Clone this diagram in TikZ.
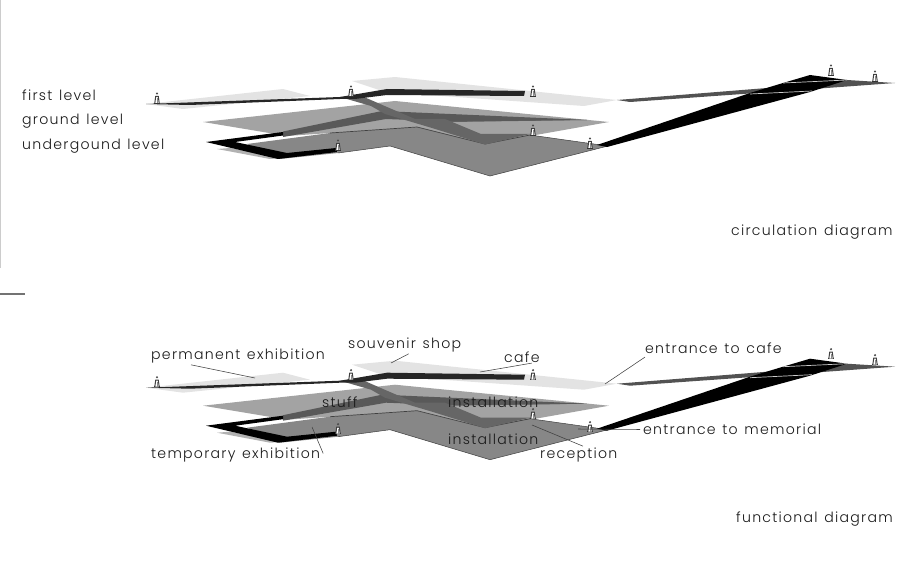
\documentclass[tikz,border=0pt]{standalone}
\usepackage{fontspec}
\setmainfont[LetterSpace=9,WordSpace=1.3]{Poppins Light}
\usetikzlibrary{positioning}
\definecolor{inkgrey}{gray}{0.1}
\tikzset{
    person/.pic={
        \draw[black!80, line width=0.8pt] (-3,0) -- (3,0);
        \fill[white] (-2,0) -- (-1.3,-6) -- (1.3,-6) -- (2,0) -- cycle;
        \draw[black!75, line width=1pt] (-2.2,0) -- (-1.3,-6.5) -- (1.3,-6.5) -- (2.2,0);
        \draw[black!45, line width=0.9pt] (0,0) -- (0,-5);
        \fill[black!70] (0,-9.5) circle (1.2pt);
    },
    label/.style={anchor=west, inner sep=0pt, yshift=-1.5pt, text=inkgrey, font=\fontsize{14.1}{16}\selectfont},
    leader/.style={black!75, line width=0.55pt}
}
\begin{document}
\begin{tikzpicture}[x=1pt, y=-1pt]
    \useasboundingbox (0,0) rectangle (915,564);
    \fill[black!20] (0,0) rectangle (1.2,268);
    \fill[black!55] (0,293.4) rectangle (25,294.8);
    % same plan twice, the second one 283.7 lower
    \foreach \dy in {0,283.7} {
    \begin{scope}[shift={(0,\dy)}]
        % first level floors
        \fill[black!11] (146,104) -- (283,89) -- (310,96) -- (183,109) -- cycle;
        \fill[black!11] (352,81) -- (395,77) -- (617,100) -- (584,106) -- (385,92) -- cycle;
        % ground level floor
        \fill[black!36] (203,122) -- (395,101) -- (609,122) -- (485,144) -- (417,127) -- (287,136) -- cycle;
        \fill[black!60] (395,114) -- (587,120) -- (450,122) -- (390,118) -- cycle;
        % underground level floor
        \fill[black!47] (247,144) -- (330,133) -- (417,127) -- (485,144) -- (530,135) -- (608,146)
            -- (490,176) -- (390,146) -- (338,153) -- (280,159) -- cycle;
        \draw[black!75, line width=0.7pt] (330,133) -- (417,127) -- (485,144) -- (530,135);
        \draw[black!75, line width=0.5pt] (530,135) -- (608,146) -- (490,176) -- (390,146) -- (338,153);
        \fill[black!30] (217,149) -- (230,148) -- (285,158) -- (270,159) -- cycle;
        % ramps
        \fill[black!65] (283,131.5) -- (382,111) -- (587,120) -- (450,121.5) -- (386,119) -- (283,137) -- cycle;
        \fill[black!60] (340,97) -- (364,97) -- (387,107) -- (415,119) -- (445,119) -- (481,134) -- (530,134)
            -- (485,144.5) -- (432,128) -- (385,114) -- (371,106) -- cycle;
        \fill[black!85] (146,104) -- (340,97) -- (387,89) -- (525,91) -- (524,96) -- (387,95) -- (355,99)
            -- (340,99) -- (190,105) -- cycle;
        \fill[black] (283,132) -- (206,142) -- (278,159) -- (337,152) -- (336,148) -- (287,153) -- (235,142)
            -- (283,135.5) -- cycle;
        % road up to the right
        \fill[black!68] (617,100) -- (767,88) -- (847,80) -- (895,83) -- (813,89) -- (630,102) -- cycle;
        \fill[black] (597,145) -- (750,93) -- (783,83) -- (810,75) -- (847,80) -- (810,92) -- (607,147) -- cycle;
        \draw[black!20, line width=0.7pt] (783,83) -- (847,80);
        \draw[black!20, line width=0.7pt] (750,94) -- (812,91);
        \foreach \px/\py in {157/103, 351/96, 533/96, 338/150, 533/135, 590/148, 831/75, 875/81}
            \pic at (\px,\py) {person};
    \end{scope}
    }
    % circulation
    \node[label] (firstlevel) at (22,94) {first level};
    \node[label] (groundlevel) at (22,120) {ground level};
    \node[label] (undergroundlevel) at (22,145) {undergound level};
    \node[label] (circulation) at (731,231) {circulation diagram};
    % functions
    \node[label] (permanent) at (151,355) {permanent exhibition};
    \node[label] (souvenir) at (348,344) {souvenir shop};
    \node[label] (cafe) at (504,356) {cafe};
    \node[label] (entrancecafe) at (645,347) {entrance to cafe};
    \node[label] (stuff) at (322,401) {stuff};
    \node[label] (installationup) at (448,401) {installation};
    \node[label] (installationdown) at (448,438) {installation};
    \node[label] (entrancememorial) at (643,428) {entrance to memorial};
    \node[label] (reception) at (540,454) {reception};
    \node[label] (temporary) at (151,454) {temporary exhibition};
    \node[label] (functional) at (736,518) {functional diagram};
    \coordinate (permanentend) at (255,378);
    \coordinate (souvenirend) at (391,363);
    \coordinate (cafeend) at (480,372);
    \coordinate (entrancecafeend) at (605,384);
    \coordinate (entrancememorialend) at (578,429);
    \coordinate (receptionend) at (532,425);
    \coordinate (temporaryend) at (312,427);
    \draw[leader] ([xshift=-47pt,yshift=-1pt]permanent.south) -- (permanentend);
    \draw[leader] ([xshift=4pt,yshift=-1pt]souvenir.south) -- (souvenirend);
    \draw[leader] ([xshift=10pt]cafe.south) -- (cafeend);
    \draw[leader] ([yshift=-3pt]entrancecafe.south west) -- (entrancecafeend);
    \draw[leader] ([xshift=-3pt]entrancememorial.west) -- (entrancememorialend);
    \draw[leader] ([xshift=43pt,yshift=2pt]reception.north west) -- (receptionend);
    \draw[leader] ([xshift=3pt,yshift=2pt]temporary.east) -- (temporaryend);
\end{tikzpicture}
\end{document}
